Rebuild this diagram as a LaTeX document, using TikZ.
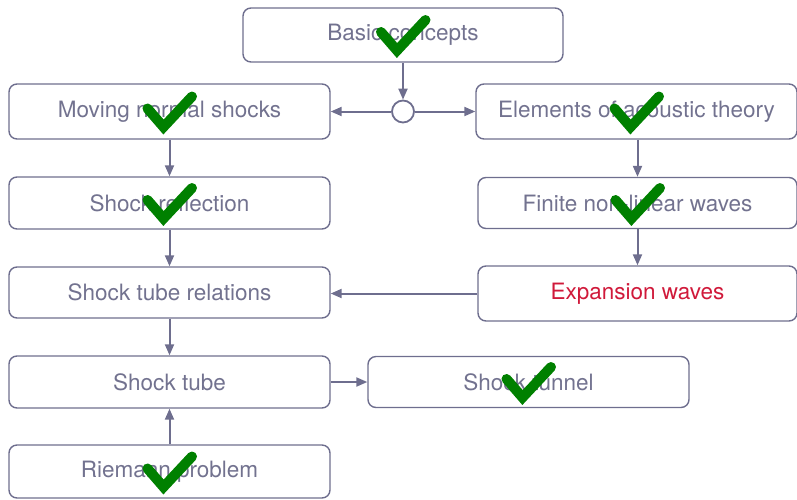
\documentclass[tikz,border=0pt]{standalone}
\usepackage{fontspec}
\setmainfont{TeX Gyre Heros}
\usetikzlibrary{arrows.meta}
\definecolor{edge}{HTML}{6E6E8E}
\definecolor{txt}{HTML}{72728F}
\definecolor{hot}{HTML}{D0193A}
\definecolor{tick}{HTML}{008000}
\tikzset{
  box/.style={draw=edge, line width=1.4pt, rounded corners=8pt, text=txt,
    font=\fontsize{22.5}{27}\selectfont, inner sep=0pt, minimum width=321pt},
  conn/.style={draw=edge, line width=2pt, -{Triangle[length=11pt,width=9pt]}},
  junction/.style={circle, draw=edge, line width=1.8pt, fill=white, minimum size=22pt, inner sep=0pt},
  tickmark/.style={draw=tick, line width=10pt, line cap=round, line join=miter},
  chk/.pic={\draw[tickmark] (-22,-3) -- (-6,15.5) -- (22.5,-15);}
}
\begin{document}
\begin{tikzpicture}[x=1pt,y=-1pt]
\useasboundingbox (0,0) rectangle (797,499);
\node[box, minimum width=320pt, minimum height=54pt] (basic) at (403,35) {Basic concepts};
\node[junction] (junc) at (403,111.5) {};
\node[box, minimum height=55pt] (moving) at (169.5,111.5) {Moving normal shocks};
\node[box, minimum height=55pt] (elements) at (636.5,111.5) {Elements of acoustic theory};
\node[box, minimum height=52pt] (reflection) at (169.5,203) {Shock reflection};
\node[box, minimum width=319pt, minimum height=51pt] (finite) at (637.5,203) {Finite non-linear waves};
\node[box, minimum height=51pt] (relations) at (169.5,292.5) {Shock tube relations};
\node[box, minimum width=319pt, minimum height=55pt, text=hot] (expansion) at (637.5,293.5) {Expansion waves};
\node[box, minimum height=52pt] (tube) at (169.5,382) {Shock tube};
\node[box, minimum height=51pt] (tunnel) at (528.5,382) {Shock tunnel};
\node[box, minimum height=53pt] (riemann) at (169.5,471.5) {Riemann problem};

\draw[conn] (basic) -- (junc);
\draw[conn] (junc) -- (moving);
\draw[conn] (junc) -- (elements);
\draw[conn] (moving) -- (reflection);
\draw[conn] (reflection) -- (relations);
\draw[conn] (relations) -- (tube);
\draw[conn] (riemann) -- (tube);
\draw[conn] (tube) -- (tunnel);
\draw[conn] (finite.north |- elements.south) -- (finite.north);
\draw[conn] (finite) -- (expansion);
\draw[conn] (expansion.west) -- (expansion.west -| relations.east);

\pic at (basic.center) {chk};
\pic at (moving.center) {chk};
\pic at (elements.center) {chk};
\pic at (reflection.center) {chk};
\pic at (finite.center) {chk};
\pic at (tunnel.center) {chk};
\pic at (riemann.center) {chk};
\end{tikzpicture}
\end{document}
